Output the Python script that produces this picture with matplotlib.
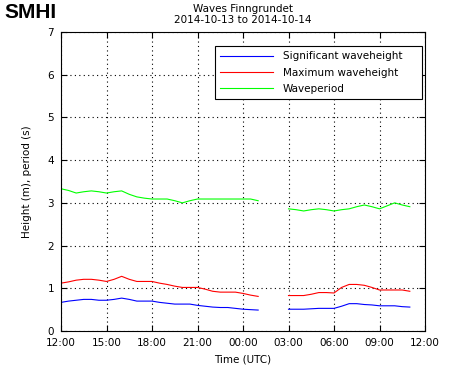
import numpy as np
import matplotlib.pyplot as plt

# Hours after 2014-10-13 12:00 UTC, half-hourly samples
hours_a = np.arange(0, 13.01, 0.5)          # 12:00 -> 01:00
hours_b = np.arange(15, 23.01, 0.5)         # 03:00 -> 11:00

sig_a = [0.67, 0.70, 0.72, 0.74, 0.74, 0.72, 0.72, 0.74, 0.77, 0.74, 0.70, 0.70, 0.70,
         0.67, 0.65, 0.63, 0.63, 0.63, 0.60, 0.58, 0.56, 0.55, 0.55, 0.53, 0.51, 0.50, 0.49]
sig_b = [0.51, 0.51, 0.51, 0.52, 0.53, 0.53, 0.53, 0.58, 0.64, 0.64, 0.62, 0.61, 0.59,
         0.59, 0.59, 0.57, 0.56]

max_a = [1.12, 1.15, 1.19, 1.21, 1.21, 1.19, 1.16, 1.21, 1.28, 1.21, 1.16, 1.16, 1.16,
         1.12, 1.09, 1.05, 1.02, 1.02, 1.02, 0.98, 0.93, 0.91, 0.91, 0.91, 0.88, 0.84, 0.81]
max_b = [0.83, 0.83, 0.83, 0.86, 0.90, 0.90, 0.89, 1.02, 1.09, 1.09, 1.07, 1.02, 0.96,
         0.96, 0.96, 0.96, 0.93]

per_a = [3.33, 3.29, 3.23, 3.26, 3.28, 3.26, 3.23, 3.26, 3.28, 3.20, 3.14, 3.11, 3.09,
         3.09, 3.09, 3.05, 3.00, 3.05, 3.09, 3.09, 3.09, 3.09, 3.09, 3.09, 3.09, 3.09, 3.05]
per_b = [2.86, 2.84, 2.81, 2.84, 2.86, 2.84, 2.81, 2.84, 2.86, 2.91, 2.95, 2.91, 2.86,
         2.93, 3.00, 2.95, 2.91]

tick_hours = np.arange(0, 25, 3)
tick_labels = ["12:00", "15:00", "18:00", "21:00", "00:00", "03:00", "06:00", "09:00", "12:00"]

plt.rcParams['font.family'] = ['DejaVu Sans']

# join the two pieces with a gap (NaN) so each series is one legend entry
x = np.concatenate([hours_a, [14.0], hours_b])
def joined(a, b):
    return np.concatenate([a, [np.nan], b])

fig = plt.figure(figsize=(4.7, 3.72), dpi=100)
ax = fig.add_axes([61 / 470, 41 / 372, 364 / 470, 299 / 372])

ax.plot(x, joined(sig_a, sig_b), color=(0, 0, 1), lw=0.8, label="Significant waveheight")
ax.plot(x, joined(max_a, max_b), color=(1, 0, 0), lw=0.8, label="Maximum waveheight")
ax.plot(x, joined(per_a, per_b), color=(0, 1, 0), lw=0.8, label="Waveperiod")

ax.set_xlim(0, 24)
ax.set_ylim(0, 7)
ax.set_xticks(tick_hours)
ax.set_xticklabels(tick_labels)
ax.set_yticks(range(8))
ax.tick_params(direction='in', top=True, right=True, length=4, width=0.8,
               labelsize=7.5, pad=5)
ax.grid(True, color='black', linestyle=(0, (1, 3)), linewidth=0.8)
for s in ax.spines.values():
    s.set_linewidth(0.8)

ax.set_xlabel("Time (UTC)", fontsize=7.5, labelpad=5)
ax.set_ylabel("Height (m), period (s)", fontsize=7.5, labelpad=11)

leg = ax.legend(loc='upper left', bbox_to_anchor=(154 / 364, 0, 207 / 364, 0.953),
                mode='expand', borderaxespad=0,
                fontsize=7.5, fancybox=False, framealpha=1, edgecolor='black',
                handlelength=5.1, borderpad=0.5, labelspacing=0.6, handletextpad=0.9)
leg.get_frame().set_linewidth(0.8)

fig.text(243 / 470, 1 - 9 / 372, "Waves Finngrundet", ha='center', va='center', fontsize=7.5)
fig.text(243 / 470, 1 - 20 / 372, "2014-10-13 to 2014-10-14", ha='center', va='center', fontsize=7.5)
fig.text(4 / 470, 1 - 13 / 372, "SMHI", ha='left', va='center', fontsize=15,
         fontweight='heavy', family='Liberation Sans')

fig.savefig("out.png", dpi=100)
